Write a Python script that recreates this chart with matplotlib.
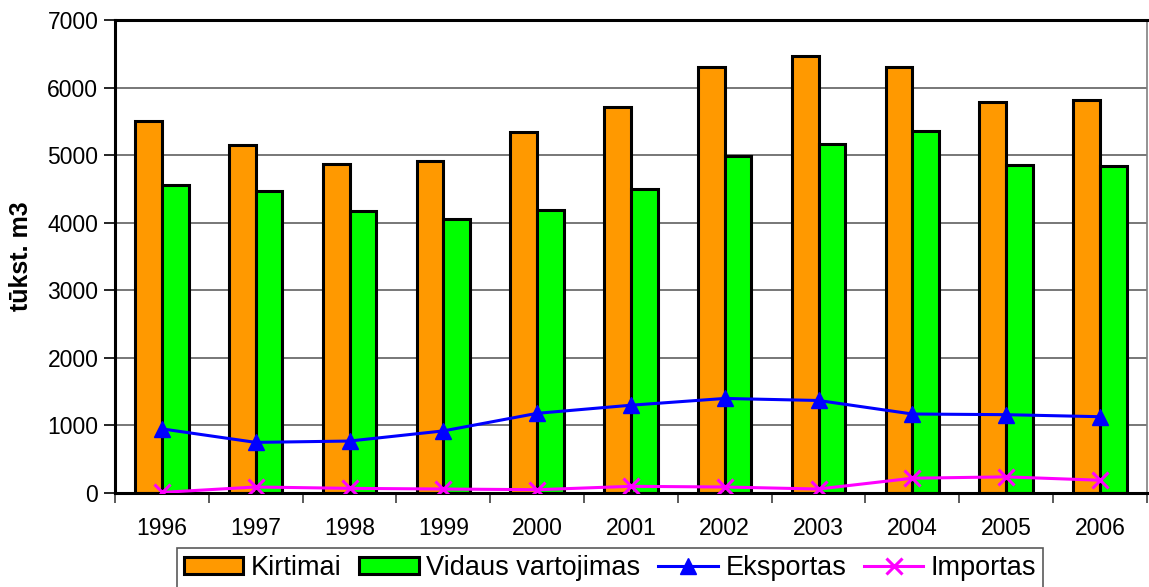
import matplotlib
matplotlib.use("Agg")
import matplotlib.pyplot as plt
import numpy as np

years = ['1996', '1997', '1998', '1999', '2000', '2001', '2002', '2003', '2004', '2005', '2006']
kirtimai = [5500, 5150, 4870, 4920, 5340, 5710, 6300, 6470, 6300, 5780, 5810]
vidaus = [4560, 4470, 4170, 4060, 4190, 4500, 4980, 5160, 5350, 4860, 4840]
eksportas = [950, 750, 770, 920, 1180, 1300, 1400, 1370, 1170, 1160, 1130]
importas = [10, 90, 70, 60, 50, 100, 90, 60, 220, 240, 190]

plt.rcParams['font.family'] = ['Liberation Sans', 'DejaVu Sans']

fig = plt.figure(figsize=(11.49, 5.87), dpi=100)
ax = fig.add_axes([0.1001, 0.160, 0.898, 0.806])

x = np.arange(len(years))
w = 0.285
b1 = ax.bar(x - w / 2, kirtimai, w, color='#ff9900', edgecolor='black', linewidth=2.2, label='Kirtimai', zorder=2)
b2 = ax.bar(x + w / 2, vidaus, w, color='#00ff00', edgecolor='black', linewidth=2.2, label='Vidaus vartojimas', zorder=2)
l1, = ax.plot(x, eksportas, color='#0000ff', lw=2.2, marker='^', markersize=11, label='Eksportas', zorder=3)
l2, = ax.plot(x, importas, color='#ff00ff', lw=2.2, marker='x', markersize=11, markeredgewidth=2.2, label='Importas', zorder=3)

ax.set_xlim(-0.5, len(years) - 0.5)
ax.set_ylim(0, 7000)
ax.set_yticks(range(0, 7001, 1000))
ax.yaxis.grid(True, color='#606060', lw=1.2, zorder=0)
ax.set_axisbelow(True)

ax.set_xticks(x)
ax.set_xticklabels(years)
ax.set_xticks(np.arange(-0.5, len(years)), minor=True)
ax.tick_params(axis='x', which='major', length=0, pad=17, labelsize=16.5)
ax.tick_params(axis='x', which='minor', length=7, width=1.2, direction='out', color='#404040')
ax.tick_params(axis='y', length=8, width=1.2, direction='out', labelsize=16.5, pad=4)

for s in ['left', 'bottom', 'top']:
    ax.spines[s].set_linewidth(2.2)
ax.spines['right'].set_color('#808080')
ax.spines['right'].set_linewidth(1.2)

ax.set_ylabel('tūkst. m3', fontsize=18, fontweight='bold', labelpad=10)

leg = fig.legend([b1, b2, l1, l2], ['Kirtimai', 'Vidaus vartojimas', 'Eksportas', 'Importas'],
                 loc='upper center', bbox_to_anchor=(0.531, 0.0664), ncol=4, frameon=True,
                 fancybox=False, edgecolor='#303030', borderpad=0.25, handlelength=2.2,
                 handleheight=0.6, handletextpad=0.28, columnspacing=0.65, borderaxespad=0,
                 prop={'size': 19.5})
leg.get_frame().set_linewidth(1.2)

fig.savefig('out.png', dpi=100)
